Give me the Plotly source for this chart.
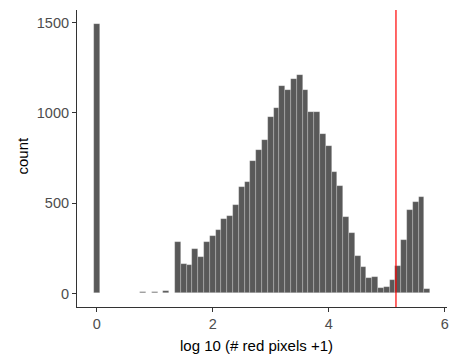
import plotly.graph_objects as go

# bin centers (log10 scale) and counts
bin_centers = [0.0, 0.8, 1.0, 1.2,
               1.4, 1.5, 1.6, 1.7, 1.8, 1.9, 2.0, 2.1, 2.2, 2.3, 2.4, 2.5, 2.6, 2.7,
               2.8, 2.9, 3.0, 3.1, 3.2, 3.3, 3.4, 3.5, 3.6, 3.7, 3.8, 3.9, 4.0, 4.1,
               4.2, 4.3, 4.4, 4.5, 4.6, 4.7, 4.8, 4.9, 5.0, 5.1, 5.2, 5.3, 5.4, 5.5,
               5.6, 5.7]
counts = [1495, 6, 6, 12,
          283, 163, 160, 245, 200, 285, 318, 350, 412, 429, 488, 588, 619, 732,
          793, 849, 978, 1025, 1148, 1126, 1187, 1209, 1126, 1006, 1006, 883, 816, 674,
          595, 425, 337, 208, 145, 84, 93, 32, 38, 75, 152, 296, 462, 508,
          536, 23]
threshold = [5.16]

x_ticks = [0, 2, 4, 6]
y_ticks = [0, 500, 1000, 1500]
x_title = "log 10 (# red pixels +1)"
y_title = "count"

FONT = "Liberation Sans, Arial, Helvetica, sans-serif"

fig = go.Figure()
fig.add_trace(go.Bar(
    x=bin_centers, y=counts, width=0.1,
    marker=dict(color="#595959", line=dict(color="rgba(255,255,255,0.35)", width=0.6)),
    showlegend=False,
))

fig.add_shape(type="line", xref="x", yref="paper",
              x0=threshold[0], x1=threshold[0], y0=0, y1=1,
              line=dict(color="#FF0000", width=1.2))

axis_common = dict(
    showgrid=False, zeroline=False, showline=True, linecolor="#333333", linewidth=1.1,
    ticks="outside", ticklen=4, tickcolor="#333333", tickwidth=1,
    tickfont=dict(family=FONT, size=14.5, color="#4D4D4D"),
    automargin=False,
)

fig.update_xaxes(range=[-0.34, 6.04], tickvals=x_ticks, **axis_common)
fig.update_yaxes(range=[-75, 1570], tickvals=y_ticks, **axis_common)

# axis titles as annotations for exact placement
fig.add_annotation(text=x_title, xref="paper", yref="paper", x=0.485, y=-0.13,
                   xanchor="center", yanchor="middle", showarrow=False,
                   font=dict(family=FONT, size=15, color="#000000"))
fig.add_annotation(text=y_title, xref="paper", yref="paper", x=-0.146, y=0.51,
                   xanchor="center", yanchor="middle", showarrow=False, textangle=-90,
                   font=dict(family=FONT, size=15, color="#000000"))

fig.update_layout(
    width=460, height=356,
    margin=dict(l=77, r=13, t=10, b=49),
    plot_bgcolor="white", paper_bgcolor="white",
    bargap=0,
)

fig.write_html("out.html",
               config={"displayModeBar": False},
               post_script="document.body.style.margin='0';document.body.style.overflow='hidden';")
